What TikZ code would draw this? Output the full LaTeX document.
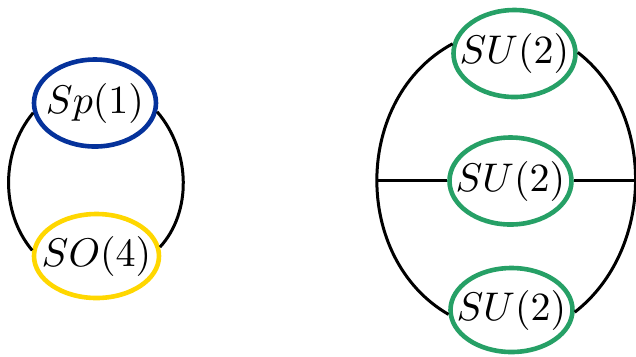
\documentclass[tikz,border=0pt]{standalone}
\usetikzlibrary{shapes.geometric}
\definecolor{gblue}{RGB}{5,50,155}
\definecolor{gyellow}{RGB}{255,215,0}
\definecolor{ggreen}{RGB}{38,160,102}
\newcommand{\glab}[1]{\makebox[0pt]{$#1$}}
\tikzset{
  gnode/.style={ellipse, draw, line width=1.15pt, fill=white, inner sep=0pt,
    minimum width=30.5pt, minimum height=21.75pt},
  edge/.style={line width=0.75pt, black}
}
\begin{document}
\begin{tikzpicture}[x=0.25pt,y=-0.25pt]
\useasboundingbox (0,0) rectangle (636,356);
% left quiver
\node[gnode, draw=gblue] (sp) at (95,103) {\glab{Sp(1)}};
\node[gnode, draw=gyellow, minimum width=31.25pt, minimum height=21pt] (so) at (96.5,256) {\glab{SO(4)}};
\draw[edge] (sp.189) .. controls (0.6,151.9) and (0.4,212.5) .. (so.175);
\draw[edge] (sp.-8) .. controls (191.4,151.9) and (191.6,212.5) .. (so.8);
% right quiver
\node[gnode, draw=ggreen] (t) at (514.5,53.5) {\glab{SU(2)}};
\node[gnode, draw=ggreen] (m) at (510.5,181) {\glab{SU(2)}};
\node[gnode, draw=ggreen, minimum height=21pt] (b) at (511.5,310) {\glab{SU(2)}};
\coordinate (L) at (376.5,180);
\coordinate (R) at (635.5,180);
\draw[edge] (t.171) .. controls (352.9,97.6) and (351.7,258.4) .. (b.184.5);
\draw[edge] (t.1) .. controls (655.9,112.7) and (654.8,250) .. (b.-2);
\draw[edge] (L) -- (L -| m.west);
\draw[edge] (R -| m.east) -- (R);
\end{tikzpicture}
\end{document}
